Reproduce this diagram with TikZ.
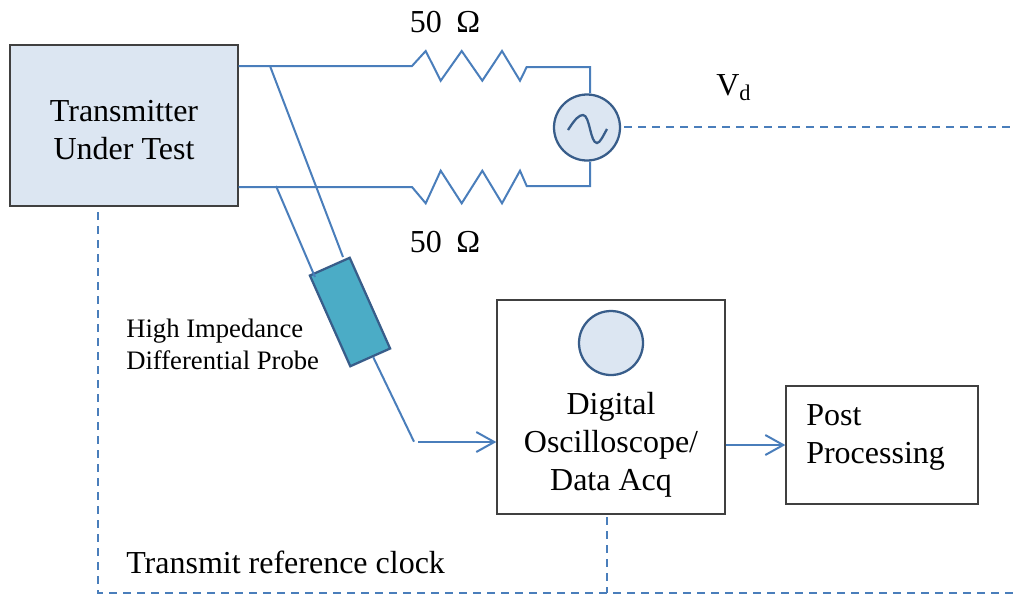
\documentclass[tikz,border=0pt]{standalone}
\usepackage{fontspec}
\setmainfont{Liberation Serif}
\usetikzlibrary{arrows.meta}
\definecolor{wire}{HTML}{4A7EBB}
\definecolor{dark}{HTML}{385D8A}
\definecolor{pale}{HTML}{DCE6F2}
\definecolor{teal}{HTML}{4BACC6}
\definecolor{boxline}{HTML}{404040}
\tikzset{
  wireline/.style={draw=wire,line width=1.5pt,line join=miter},
  dashline/.style={draw=wire,line width=1.5pt,dash pattern=on 6pt off 4.5pt},
  arrowline/.style={wireline,-{Straight Barb[length=13.5pt,width=15pt,line width=1.5pt]}},
  palebox/.style={draw=boxline,line width=1pt,fill=pale,inner sep=0pt},
  whitebox/.style={draw=boxline,line width=1pt,fill=white,inner sep=0pt},
  disc/.style={circle,draw=dark,line width=1.7pt,fill=pale,inner sep=0pt},
  txt/.style={inner sep=0pt,font=\fontsize{24}{28.5}\selectfont,text=black},
  smalltxt/.style={inner sep=0pt,align=left,font=\fontsize{20}{23.5}\selectfont,text=black}
}
\begin{document}
\begin{tikzpicture}[x=0.75pt,y=-0.75pt]
\useasboundingbox (0,0) rectangle (1016,594);
% boxes
\node[palebox,minimum width=171pt,minimum height=120.75pt] (tx) at (124,125.5) {};
\node[whitebox,minimum width=171pt,minimum height=160.5pt] (scope) at (611,407) {};
\node[whitebox,minimum width=144pt,minimum height=88.5pt] (post) at (882,445) {};
\node[disc,minimum size=48pt] (scdisc) at (611,343) {};
\node[disc,minimum size=49.5pt] (src) at (587,127.5) {};
\node[draw=dark,line width=1.7pt,fill=teal,rotate=-66,minimum width=74.5pt,minimum height=32.7pt,inner sep=0pt] (probe) at (350,312) {};
% coordinates
\coordinate (t1) at (tx.east |- 0,66);
\coordinate (t2) at (tx.east |- 0,187);
\coordinate (pa) at (270,66);
\coordinate (pb) at (276,186);
\coordinate (pae) at (343,257);
\coordinate (pbe) at (315,277);
\coordinate (pc) at (373.3,357.3);
\coordinate (pd) at (414,441.7);
\coordinate (ae) at (418,442);
\coordinate (ar) at (scope.west |- 0,442);
\coordinate (sl) at (scope.east |- 0,445);
\coordinate (pl) at (post.west |- 0,445);
\coordinate (cl) at (98,212);
\coordinate (cb) at (98,593);
\coordinate (sb) at (607,517);
\coordinate (sbb) at (607,593);
\coordinate (cr) at (1016,593);
\coordinate (vs) at (624,127);
\coordinate (ve) at (1016,127);
% resistors and wires
\draw[wireline] (t1) -- (412,66) -- (425.7,51) -- (440.7,80.7) -- (461.7,51) -- (482.3,80.7) -- (502,51) -- (520,80.7) -- (526.7,67) -- (590,67) -- (src.north -| 590,0);
\draw[wireline] (t2) -- (412,187) -- (425.7,203.3) -- (440.7,170.7) -- (461.7,203.3) -- (482.3,170.7) -- (502,203.3) -- (520,170.7) -- (526.7,186) -- (590,186) -- (src.south -| 590,0);
% sine
\draw[draw=dark,line width=1.7pt] (568,130) .. controls (575,119) and (579,115) .. (583,115) .. controls (590,115) and (590,143) .. (597,143) .. controls (600,143) and (603,136) .. (607,129);
% probe wires
\draw[wireline] (pa) -- (pae);
\draw[wireline] (pb) -- (pbe);
\draw[wireline] (pc) -- (pd);
\draw[arrowline] (ae) -- (ar);
\draw[arrowline] (sl) -- (pl);
% dashed
\draw[dashline] (vs) -- (ve);
\draw[dashline] (cl) -- (cb) -- (cr);
\draw[dashline] (sb) -- (sbb);
% text
\node[txt,align=center] (tt) at (124,130) {Transmitter\\Under Test};
\node[txt] (r1) at (445,22) {50\hspace{0.45em}Ω};
\node[txt] (r2) at (445,242) {50\hspace{0.45em}Ω};
\node[txt,anchor=west] (vd) at (716,88) {V\textsubscript{d}};
\node[smalltxt,anchor=west] (hl) at (126,344.5) {High Impedance\\Differential Probe};
\node[txt,align=center] (st) at (611,445) {Digital\\Oscilloscope/\\Data Acq};
\node[txt,align=left,anchor=west] (pt) at (806,437) {Post\\Processing};
\node[txt,anchor=west] (rc) at (126,562) {Transmit reference clock};
\end{tikzpicture}
\end{document}
